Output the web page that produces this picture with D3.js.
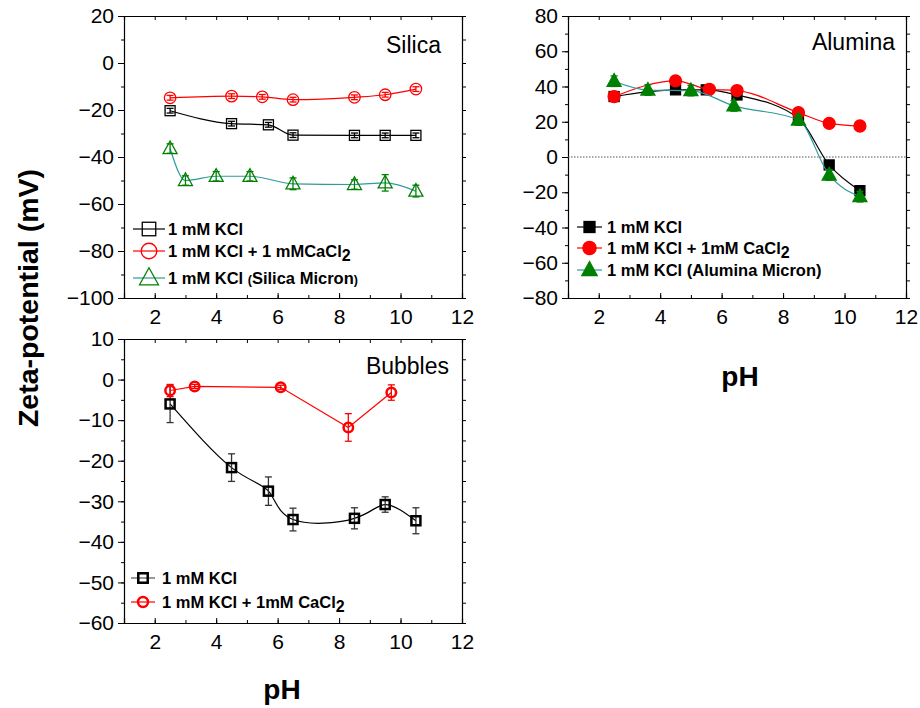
<!DOCTYPE html>
<html><head><meta charset="utf-8">
<script src="https://cdn.jsdelivr.net/npm/d3@7"></script>
<style>body{margin:0;background:#fff}svg{font-family:"Liberation Sans",Arial,sans-serif}</style>
</head><body><svg id="c" width="920" height="708"></svg>
<script>
// ---------- DATA ----------
const xTicks = [2,4,6,8,10,12];
const silicaYTicks = [20,0,-20,-40,-60,-80,-100];
const aluminaYTicks = [80,60,40,20,0,-20,-40,-60,-80];
const bubblesYTicks = [10,0,-10,-20,-30,-40,-50,-60];

const silicaKCl_pH = [2.5,4.5,5.7,6.5,8.5,9.5,10.5];
const silicaKCl_zeta = [-20.3,-25.8,-26.3,-30.7,-30.8,-30.8,-30.8];
const silicaKCl_err = [1,1,1,1,1,1,1];
const silicaCa_pH = [2.5,4.5,5.5,6.5,8.5,9.5,10.5];
const silicaCa_zeta = [-14.8,-14.1,-14.4,-15.6,-14.6,-13.5,-11.1];
const silicaCa_err = [1,1,1,1,1,1,1];
const silicaMic_pH = [2.5,3.0,4.0,5.1,6.5,8.5,9.5,10.5];
const silicaMic_zeta = [-36.4,-50.0,-48.2,-48.2,-51.4,-51.7,-51.0,-54.5];
const silicaMic_err = [2,2,2,2,2.5,2,3.5,2.5];

const aluKCl_pH = [2.5,4.5,5.5,6.5,8.5,9.5,10.5];
const aluKCl_zeta = [34.3,38.1,38.1,35.2,22.0,-4.5,-19.1];
const aluKCl_err = [1.5,1.5,1.5,1.5,1.5,1.5,1.5];
const aluCa_pH = [2.5,4.5,5.6,6.5,8.5,9.5,10.5];
const aluCa_zeta = [34.3,43.2,38.4,37.7,25.2,19.1,17.6];
const aluCa_err = [1.5,1,1.5,1.5,1,1,1];
const aluMic_pH = [2.5,3.6,5.0,6.4,8.5,9.5,10.5];
const aluMic_zeta = [43.0,38.0,37.7,29.0,21.0,-10.2,-22.5];
const aluMic_err = [3,3,3,3,3,3,3];

const bubKCl_pH = [2.5,4.5,5.7,6.5,8.5,9.5,10.5];
const bubKCl_zeta = [-6.0,-21.7,-27.5,-34.5,-34.2,-30.8,-34.8];
const bubKCl_err = [4.6,3.4,3.5,2.8,2.6,1.9,3.2];
const bubCa_pH = [2.5,3.3,6.1,8.3,9.7];
const bubCa_zeta = [-2.7,-1.7,-1.9,-11.8,-3.2];
const bubCa_err = [1.5,0.5,0.5,3.4,1.9];

// ---------- DRAW ----------
const svg = d3.select("#c");
const RED="#ff0000", GREEN="#008000", TEAL="#2f9a9a";

function zip(xs, ys, es){ return xs.map((x,i)=>({x, y:ys[i], e:es?es[i]:0})); }

function panel(o){
  const x = d3.scaleLinear().domain([1,12]).range([o.x0,o.x1]);
  const y = d3.scaleLinear().domain(o.yDom).range([o.y1,o.y0]);
  const g = svg.append("g");
  const minorX = d3.range(1,13,1);
  const left = g.append("g").attr("transform",`translate(${o.x0},0)`)
    .call(d3.axisLeft(y).tickValues(o.yTicks).tickSize(6).tickPadding(4).tickFormat(d3.format("d")));
  left.select(".domain").attr("stroke-width",1.2);
  left.selectAll("text").attr("font-size",21).attr("fill","#000");
  g.append("g").attr("transform",`translate(${o.x0},0)`)
    .call(d3.axisLeft(y).tickValues(d3.range(o.yDom[0],o.yDom[1]+0.001,o.minorY)).tickSize(3).tickFormat(""))
    .select(".domain").remove();
  const right = g.append("g").attr("transform",`translate(${o.x1},0)`)
    .call(d3.axisLeft(y).tickValues(d3.range(o.yDom[0],o.yDom[1]+0.001,o.minorY)).tickSize(-4).tickFormat(""));
  right.select(".domain").attr("stroke-width",1.2);
  const bottom = g.append("g").attr("transform",`translate(0,${o.y1})`)
    .call(d3.axisBottom(x).tickValues(xTicks).tickSize(-5).tickPadding(11).tickFormat(d3.format("d")));
  bottom.select(".domain").attr("stroke-width",1.2);
  bottom.selectAll("text").attr("font-size",21).attr("fill","#000");
  g.append("g").attr("transform",`translate(0,${o.y1})`)
    .call(d3.axisBottom(x).tickValues(minorX).tickSize(-3).tickFormat("")).select(".domain").remove();
  const top = g.append("g").attr("transform",`translate(0,${o.y0})`)
    .call(d3.axisTop(x).tickValues(minorX).tickSize(-4).tickFormat(""));
  top.select(".domain").attr("stroke-width",1.2);
  g.selectAll(".tick line").attr("stroke","#000");
  g.append("text").attr("x",o.titleX).attr("y",o.titleY).attr("text-anchor","end")
    .attr("font-size",23).text(o.title);
  return {x,y,g};
}

function drawSeries(P, data, s){
  const {x,y,g} = P;
  const line = d3.line().x(d=>x(d.x)).y(d=>y(d.y)).curve(s.curve||d3.curveMonotoneX);
  g.append("path").datum(data).attr("d",line).attr("fill","none")
    .attr("stroke",s.lineColor).attr("stroke-width",s.lw||1.2);
  const eb = g.append("g").attr("stroke",s.errColor||s.color).attr("stroke-width",1.3);
  data.forEach(d=>{
    if(!d.e) return;
    const xa=x(d.x), ya=y(d.y+d.e), yb=y(d.y-d.e);
    eb.append("line").attr("x1",xa).attr("x2",xa).attr("y1",ya).attr("y2",yb);
    eb.append("line").attr("x1",xa-3.5).attr("x2",xa+3.5).attr("y1",ya).attr("y2",ya);
    eb.append("line").attr("x1",xa-3.5).attr("x2",xa+3.5).attr("y1",yb).attr("y2",yb);
  });
  data.forEach(d=>marker(g, s.shape, x(d.x), y(d.y), s));
}

function marker(g, shape, cx, cy, s, scale){
  const k = scale||1;
  const fill = s.filled ? s.color : "none";
  const sw = s.msw||1.3;
  if(shape==="square"){
    const a=s.size*k;
    g.append("rect").attr("x",cx-a/2).attr("y",cy-a/2).attr("width",a).attr("height",a)
      .attr("fill",fill).attr("stroke",s.color).attr("stroke-width",sw);
  } else if(shape==="circle"){
    g.append("circle").attr("cx",cx).attr("cy",cy).attr("r",s.size*k/2)
      .attr("fill",fill).attr("stroke",s.color).attr("stroke-width",sw);
  } else {
    const w=s.size*k, h=w*0.9;
    g.append("path").attr("d",`M${cx},${cy-h*0.6}L${cx+w/2},${cy+h*0.4}L${cx-w/2},${cy+h*0.4}Z`)
      .attr("fill",fill).attr("stroke",s.color).attr("stroke-width",sw);
  }
}

function legend(g, items, lx0, lx1, tx, ys){
  items.forEach((it,i)=>{
    const yy=ys[i];
    g.append("line").attr("x1",lx0).attr("x2",lx1).attr("y1",yy).attr("y2",yy)
      .attr("stroke",it.s.lineColor).attr("stroke-width",1.2);
    marker(g,it.s.shape,(lx0+lx1)/2,yy,it.s,it.k||1.35);
    const t=g.append("text").attr("x",tx).attr("y",yy+6).attr("font-size",16.5).attr("font-weight","bold");
    it.parts.forEach(p=>{
      const ts=t.append("tspan").text(p.t);
      if(p.sub) ts.attr("font-size",16).attr("dy",4);
      if(p.small) ts.attr("font-size",12.5);
    });
  });
}

// Silica
const S = panel({x0:124,x1:462,y0:16,y1:298,yDom:[-100,20],yTicks:silicaYTicks,minorY:10,
  title:"Silica",titleX:441,titleY:53});
const sK={shape:"square",color:"#000",lineColor:"#000",size:10};
const sC={shape:"circle",color:RED,lineColor:RED,size:11.5};
const sM={shape:"triangle",color:GREEN,lineColor:TEAL,size:14,errColor:GREEN};
drawSeries(S, zip(silicaKCl_pH,silicaKCl_zeta,silicaKCl_err), sK);
drawSeries(S, zip(silicaCa_pH,silicaCa_zeta,silicaCa_err), sC);
drawSeries(S, zip(silicaMic_pH,silicaMic_zeta,silicaMic_err), sM);
legend(S.g,[
  {s:sK,parts:[{t:"1 mM KCl"}]},
  {s:sC,parts:[{t:"1 mM KCl + 1 mMCaCl"},{t:"2",sub:true}]},
  {s:sM,parts:[{t:"1 mM KCl "},{t:"(",small:true},{t:"Silica Micron"},{t:")",small:true}]}
],133,165,168,[229,251,278]);

// Alumina
const A = panel({x0:568,x1:906,y0:16,y1:298,yDom:[-80,80],yTicks:aluminaYTicks,minorY:10,
  title:"Alumina",titleX:895,titleY:50});
A.g.append("line").attr("x1",568).attr("x2",906).attr("y1",A.y(0)).attr("y2",A.y(0))
  .attr("stroke","#555").attr("stroke-width",1).attr("stroke-dasharray","1.5,1.5");
const aK={shape:"square",color:"#000",lineColor:"#000",size:10,filled:true};
const aC={shape:"circle",color:RED,lineColor:RED,size:12,filled:true};
const aM={shape:"triangle",color:GREEN,lineColor:TEAL,size:14,filled:true,errColor:GREEN};
drawSeries(A, zip(aluKCl_pH,aluKCl_zeta,aluKCl_err), aK);
drawSeries(A, zip(aluCa_pH,aluCa_zeta,aluCa_err), aC);
drawSeries(A, zip(aluMic_pH,aluMic_zeta,aluMic_err), aM);
legend(A.g,[
  {s:aK,parts:[{t:"1 mM KCl"}],k:1.1},
  {s:aC,parts:[{t:"1 mM KCl + 1mM CaCl"},{t:"2",sub:true}],k:1.1},
  {s:aM,parts:[{t:"1 mM KCl (Alumina Micron)"}],k:1.1}
],577,602,607,[227,248,270]);
A.g.append("text").attr("x",740).attr("y",386).attr("text-anchor","middle")
  .attr("font-size",28).attr("font-weight","bold").text("pH");

// Bubbles
const B = panel({x0:124,x1:462,y0:339,y1:623,yDom:[-60,10],yTicks:bubblesYTicks,minorY:5,
  title:"Bubbles",titleX:449,titleY:374});
const bK={shape:"square",color:"#000",lineColor:"#000",size:9,msw:2.5,errColor:"#333"};
const bC={shape:"circle",color:RED,lineColor:RED,size:9.5,msw:2.5};
drawSeries(B, zip(bubKCl_pH,bubKCl_zeta,bubKCl_err), Object.assign({curve:d3.curveNatural},bK));
drawSeries(B, zip(bubCa_pH,bubCa_zeta,bubCa_err), Object.assign({curve:d3.curveLinear},bC));
legend(B.g,[
  {s:Object.assign({},bK,{lineColor:"#555"}),parts:[{t:"1 mM KCl"}],k:1.05},
  {s:bC,parts:[{t:"1 mM KCl + 1mM CaCl"},{t:"2",sub:true}],k:1.05}
],131,155,162,[578,602]);
B.g.append("text").attr("x",282).attr("y",699).attr("text-anchor","middle")
  .attr("font-size",28).attr("font-weight","bold").text("pH");

// Y axis label
svg.append("text").attr("transform","translate(38,298) rotate(-90)").attr("text-anchor","middle")
  .attr("font-size",28.5).attr("font-weight","bold").text("Zeta-potential (mV)");
</script></body></html>
